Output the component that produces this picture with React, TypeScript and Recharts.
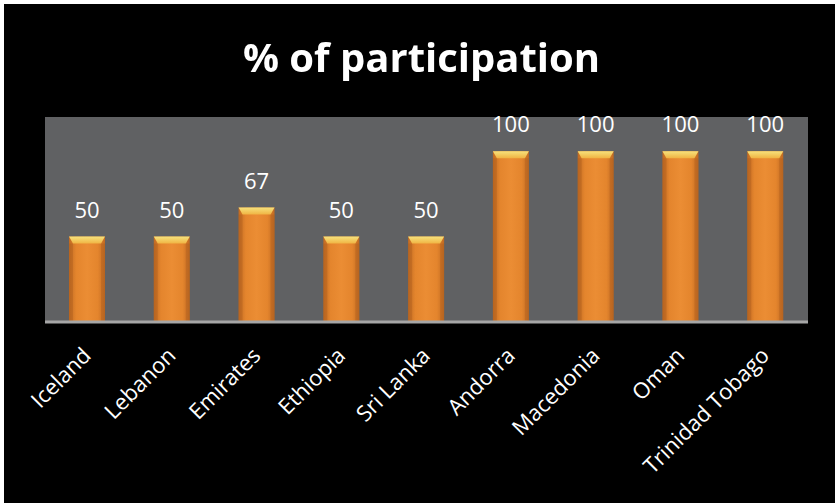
import { BarChart, Bar, XAxis, YAxis, CartesianGrid, LabelList } from "recharts";

const countries = [
  "Iceland",
  "Lebanon",
  "Emirates",
  "Ethiopia",
  "Sri Lanka",
  "Andorra",
  "Macedonia",
  "Oman",
  "Trinidad Tobago",
];
const participation = [50, 50, 67, 50, 50, 100, 100, 100, 100];

const data = countries.map((name, i) => ({ name, value: participation[i] }));

const FONT = "'Open Sans', sans-serif";

// bevelled orange bar, like the old office "bevel" style
function BevelBar(props: any) {
  const { x, y, width, height } = props;
  if (!height || height <= 0) return null;
  const bev = 7;
  const side = 4;
  return (
    <g>
      <rect x={x} y={y} width={width} height={height} fill="url(#barBody)" />
      <polygon
        points={`${x},${y + bev} ${x + side},${y + bev} ${x + side},${y + height} ${x},${y + height}`}
        fill="#a65a1c"
        opacity={0.35}
      />
      <polygon
        points={`${x + width - side},${y + bev} ${x + width},${y + bev} ${x + width},${y + height} ${x + width - side},${y + height}`}
        fill="#a65a1c"
        opacity={0.35}
      />
      <polygon
        points={`${x},${y} ${x + width},${y} ${x + width - side},${y + bev} ${x + side},${y + bev}`}
        fill="url(#barTop)"
      />
    </g>
  );
}

function CountryTick({ x, y, payload }: any) {
  return (
    <g transform={`translate(${x + 5},${y + 27})`}>
      <text
        transform="rotate(-45)"
        textAnchor="end"
        fill="#ffffff"
        fontSize={22}
        fontFamily={FONT}
      >
        {payload.value}
      </text>
    </g>
  );
}

function ValueLabel({ x, y, width, value }: any) {
  return (
    <text
      x={x + width / 2}
      y={y - 19}
      textAnchor="middle"
      fill="#ffffff"
      fontSize={22}
      fontFamily={FONT}
    >
      {value}
    </text>
  );
}

export default function App() {
  return (
    <div
      style={{
        position: "fixed",
        left: 0,
        top: 0,
        width: 835,
        height: 503,
        background: "#ffffff",
      }}
    >
      <div
        style={{
          position: "absolute",
          left: 4,
          top: 4,
          width: 831,
          height: 499,
          background: "#000000",
        }}
      >
        <BarChart
          width={831}
          height={499}
          data={data}
          margin={{ top: 113, right: 27, left: 41, bottom: 0 }}
          barCategoryGap={0}
        >
          <defs>
            <linearGradient id="barBody" x1="0" y1="0" x2="1" y2="0">
              <stop offset="0%" stopColor="#c06a22" />
              <stop offset="20%" stopColor="#e4852d" />
              <stop offset="50%" stopColor="#eb8d34" />
              <stop offset="80%" stopColor="#e4852d" />
              <stop offset="100%" stopColor="#c06a22" />
            </linearGradient>
            <linearGradient id="barTop" x1="0" y1="0" x2="0" y2="1">
              <stop offset="0%" stopColor="#f6e27c" />
              <stop offset="100%" stopColor="#f0b443" />
            </linearGradient>
          </defs>
          <CartesianGrid fill="#606163" stroke="transparent" />
          <XAxis
            dataKey="name"
            interval={0}
            height={181}
            tickLine={false}
            axisLine={{ stroke: "#a6a6a6", strokeWidth: 3 }}
            tick={<CountryTick />}
          />
          <YAxis hide domain={[0, 120]} />
          <Bar
            dataKey="value"
            barSize={36}
            shape={<BevelBar />}
            isAnimationActive={false}
          >
            <LabelList dataKey="value" content={<ValueLabel />} />
          </Bar>
        </BarChart>
      </div>
      <div
        style={{
          position: "absolute",
          left: 4,
          top: 36.5,
          width: 835,
          textAlign: "center",
          color: "#ffffff",
          fontFamily: FONT,
          fontWeight: 700,
          fontSize: 40,
          lineHeight: "40px",
        }}
      >
        % of participation
      </div>
    </div>
  );
}
